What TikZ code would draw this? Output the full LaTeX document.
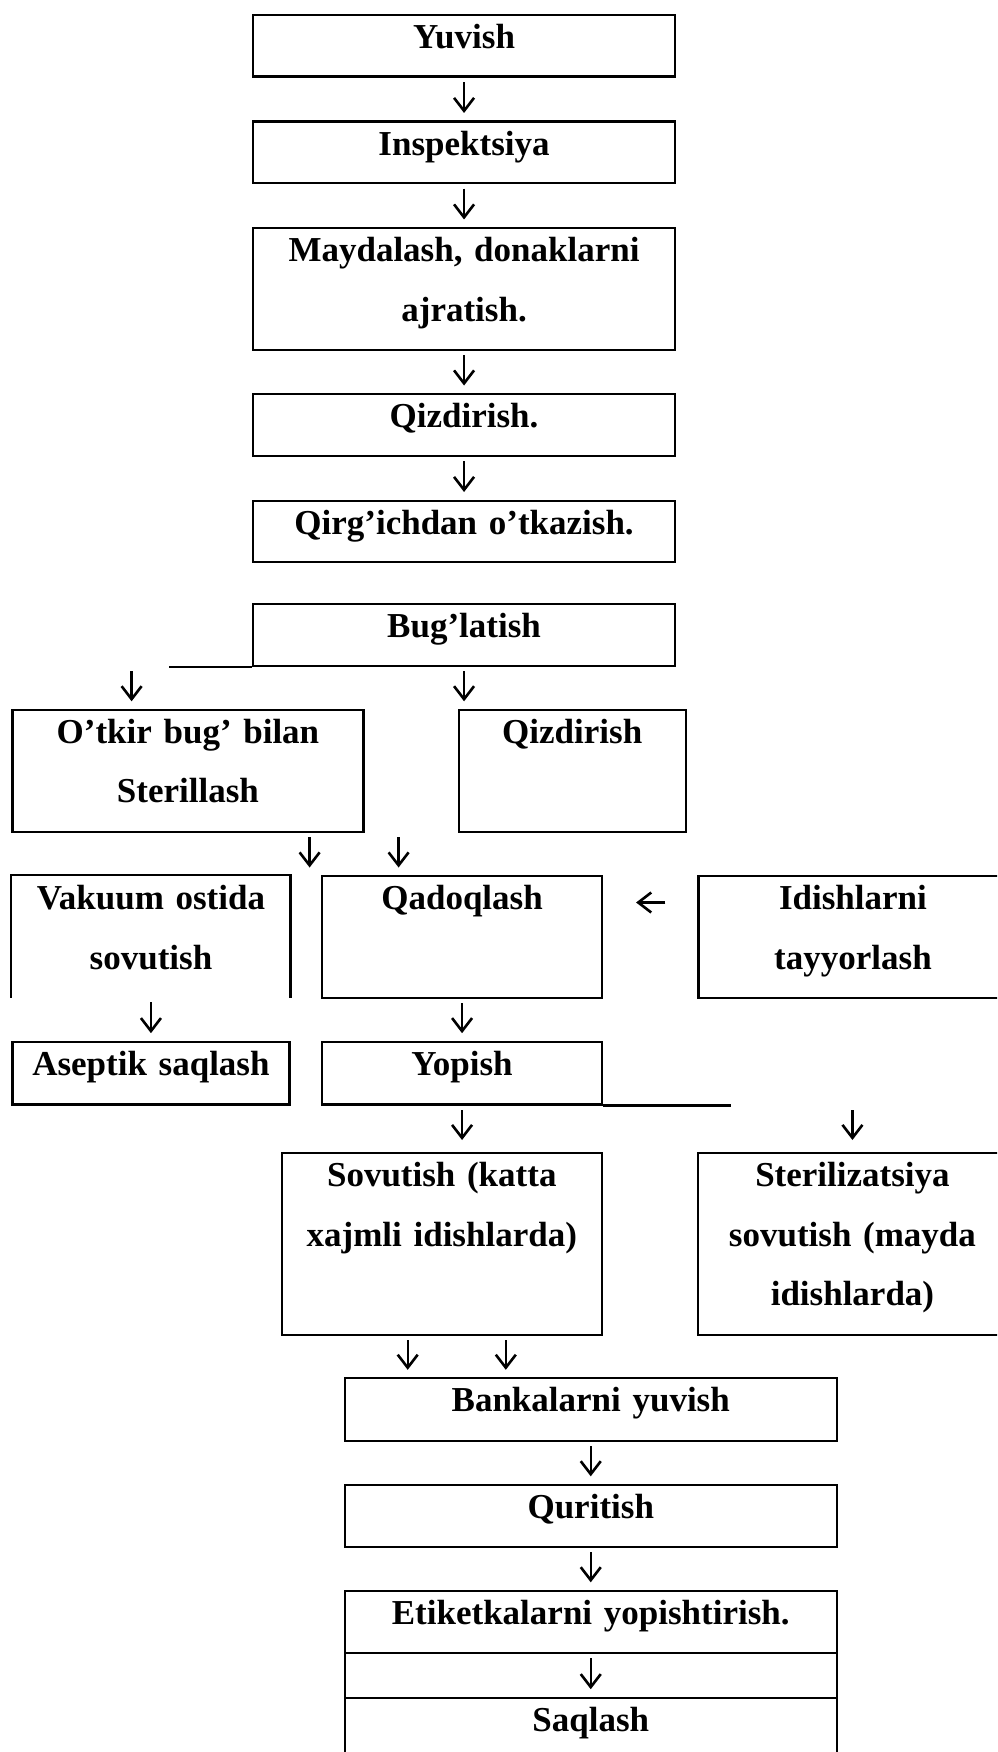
\documentclass[tikz,border=0pt]{standalone}
\usepackage{fontspec}
\setmainfont{Liberation Serif}
\usetikzlibrary{arrows.meta}

\begin{document}
\begin{tikzpicture}[
	x=1pt, y=-1pt,
	every node/.style={font=\bfseries\fontsize{35}{59.5}\selectfont},
	blok/.style={draw, line width=2.1pt, inner sep=0pt, anchor=north west,
		align=center, text height=33.5pt},
	chiziq/.style={line width=2.1pt},
	strelka/.style={line width=2.4pt, -{Straight Barb[length=13pt, width=20pt, line width=2.6pt]},
		shorten <=4.5pt, shorten >=7.5pt}
]
%/*
\useasboundingbox (0,0) rectangle (997,1752);
\clip (0,0) rectangle (997,1752);

\node[blok, text width=422pt, text depth=28pt] (yuvish) at (252,14) {Yuvish};
\node[blok, text width=422pt, text depth=28pt] (insp) at (252,120.5) {Inspektsiya};
\node[blok, text width=422pt, text depth=88pt] (mayda) at (252,227) {Maydalash, donaklarni\\ajratish.};
\node[blok, text width=422pt, text depth=28pt] (qizdir) at (252,393) {Qizdirish.};
\node[blok, text width=422pt, text depth=28pt] (qirgich) at (252,499.5) {Qirg’ichdan o’tkazish.};

\node[blok, text width=422pt, text depth=28.5pt] (bug) at (252,602.7) {Bug’latish};
\draw[chiziq] (bug.south west) -- ++(-83,0);

\node[blok, text width=351pt, text depth=88.5pt] (otkir) at (11.4,708.8) {O’tkir bug’ bilan\\Sterillash};
\node[blok, text width=227pt, text depth=88.5pt] (qizdir2) at (457.7,708.8) {Qizdirish};

\node[blok, draw=none, text width=277pt, text depth=87pt] (vakuum) at (11.4,875) {Vakuum ostida\\sovutish};
\draw[chiziq] (vakuum.south west) -- (vakuum.north west) -- (vakuum.north east) -- (vakuum.south east);
\node[blok, text width=280pt, text depth=88.2pt] (qadoq) at (321,875) {Qadoqlash};
\node[blok, text width=309pt, text depth=88.2pt] (idish) at (697.4,875) {Idishlarni\\tayyorlash};

\node[blok, text width=277pt, text depth=29.2pt] (aseptik) at (11.4,1040.7) {Aseptik saqlash};
\node[blok, text width=280pt, text depth=29.2pt] (yopish) at (321,1040.7) {Yopish};
\draw[chiziq] (yopish.south east) -- ++(128,0);

\node[blok, text width=320.5pt, text depth=148.2pt] (sovut) at (280.5,1152) {Sovutish (katta\\xajmli idishlarda)};
\node[blok, text width=309pt, text depth=148.2pt] (steril) at (696.9,1152) {Sterilizatsiya\\sovutish (mayda\\idishlarda)};

\node[blok, text width=491.6pt, text depth=28.9pt] (bankalar) at (343.9,1377.3) {Bankalarni yuvish};
\node[blok, text width=491.6pt, text depth=28.5pt] (qurit) at (343.9,1483.8) {Quritish};
\node[blok, text width=491.6pt, text depth=28.5pt] (etiket) at (343.9,1589.8) {Etiketkalarni yopishtirish.};
\node[blok, text width=491.6pt, text depth=11.4pt] (oraliq) at (343.9,1651.8) {};
\node[blok, text width=491.6pt, text depth=36.5pt] (saqlash) at (343.9,1696.7) {Saqlash};

\coordinate (o1) at (131.6,0);
\coordinate (o2) at (309.6,0);
\coordinate (o3) at (398.6,0);
\coordinate (o4) at (0,902.5);
\coordinate (o5) at (407.7,0);
\coordinate (o6) at (505.8,0);

\draw[strelka] (yuvish.south) -- (insp.north);
\draw[strelka] (insp.south) -- (mayda.north);
\draw[strelka] (mayda.south) -- (qizdir.north);
\draw[strelka] (qizdir.south) -- (qirgich.north);

\draw[strelka] (bug.south -| o1) -- (otkir.north -| o1);
\draw[strelka] (bug.south) -- (bug.south |- qizdir2.north);
\draw[strelka] (otkir.south -| o2) -- (vakuum.north -| o2);
\draw[strelka] (otkir.south -| o3) -- (qadoq.north -| o3);
\draw[strelka, shorten <=32pt, shorten >=33pt] (idish.west |- o4) -- (qadoq.east |- o4);

\draw[strelka] (vakuum.south) -- (aseptik.north);
\draw[strelka] (qadoq.south) -- (yopish.north);
\draw[strelka, shorten >=12pt] (yopish.south) -- (yopish.south |- sovut.north);
\draw[strelka, shorten >=12pt] (yopish.south -| steril.north) -- (steril.north);

\draw[strelka] (sovut.south -| o5) -- (bankalar.north -| o5);
\draw[strelka] (sovut.south -| o6) -- (bankalar.north -| o6);
\draw[strelka] (bankalar.south) -- (qurit.north);
\draw[strelka] (qurit.south) -- (etiket.north);
\draw[strelka] (etiket.south) -- (saqlash.north);
%*/
\end{tikzpicture}
\end{document}
